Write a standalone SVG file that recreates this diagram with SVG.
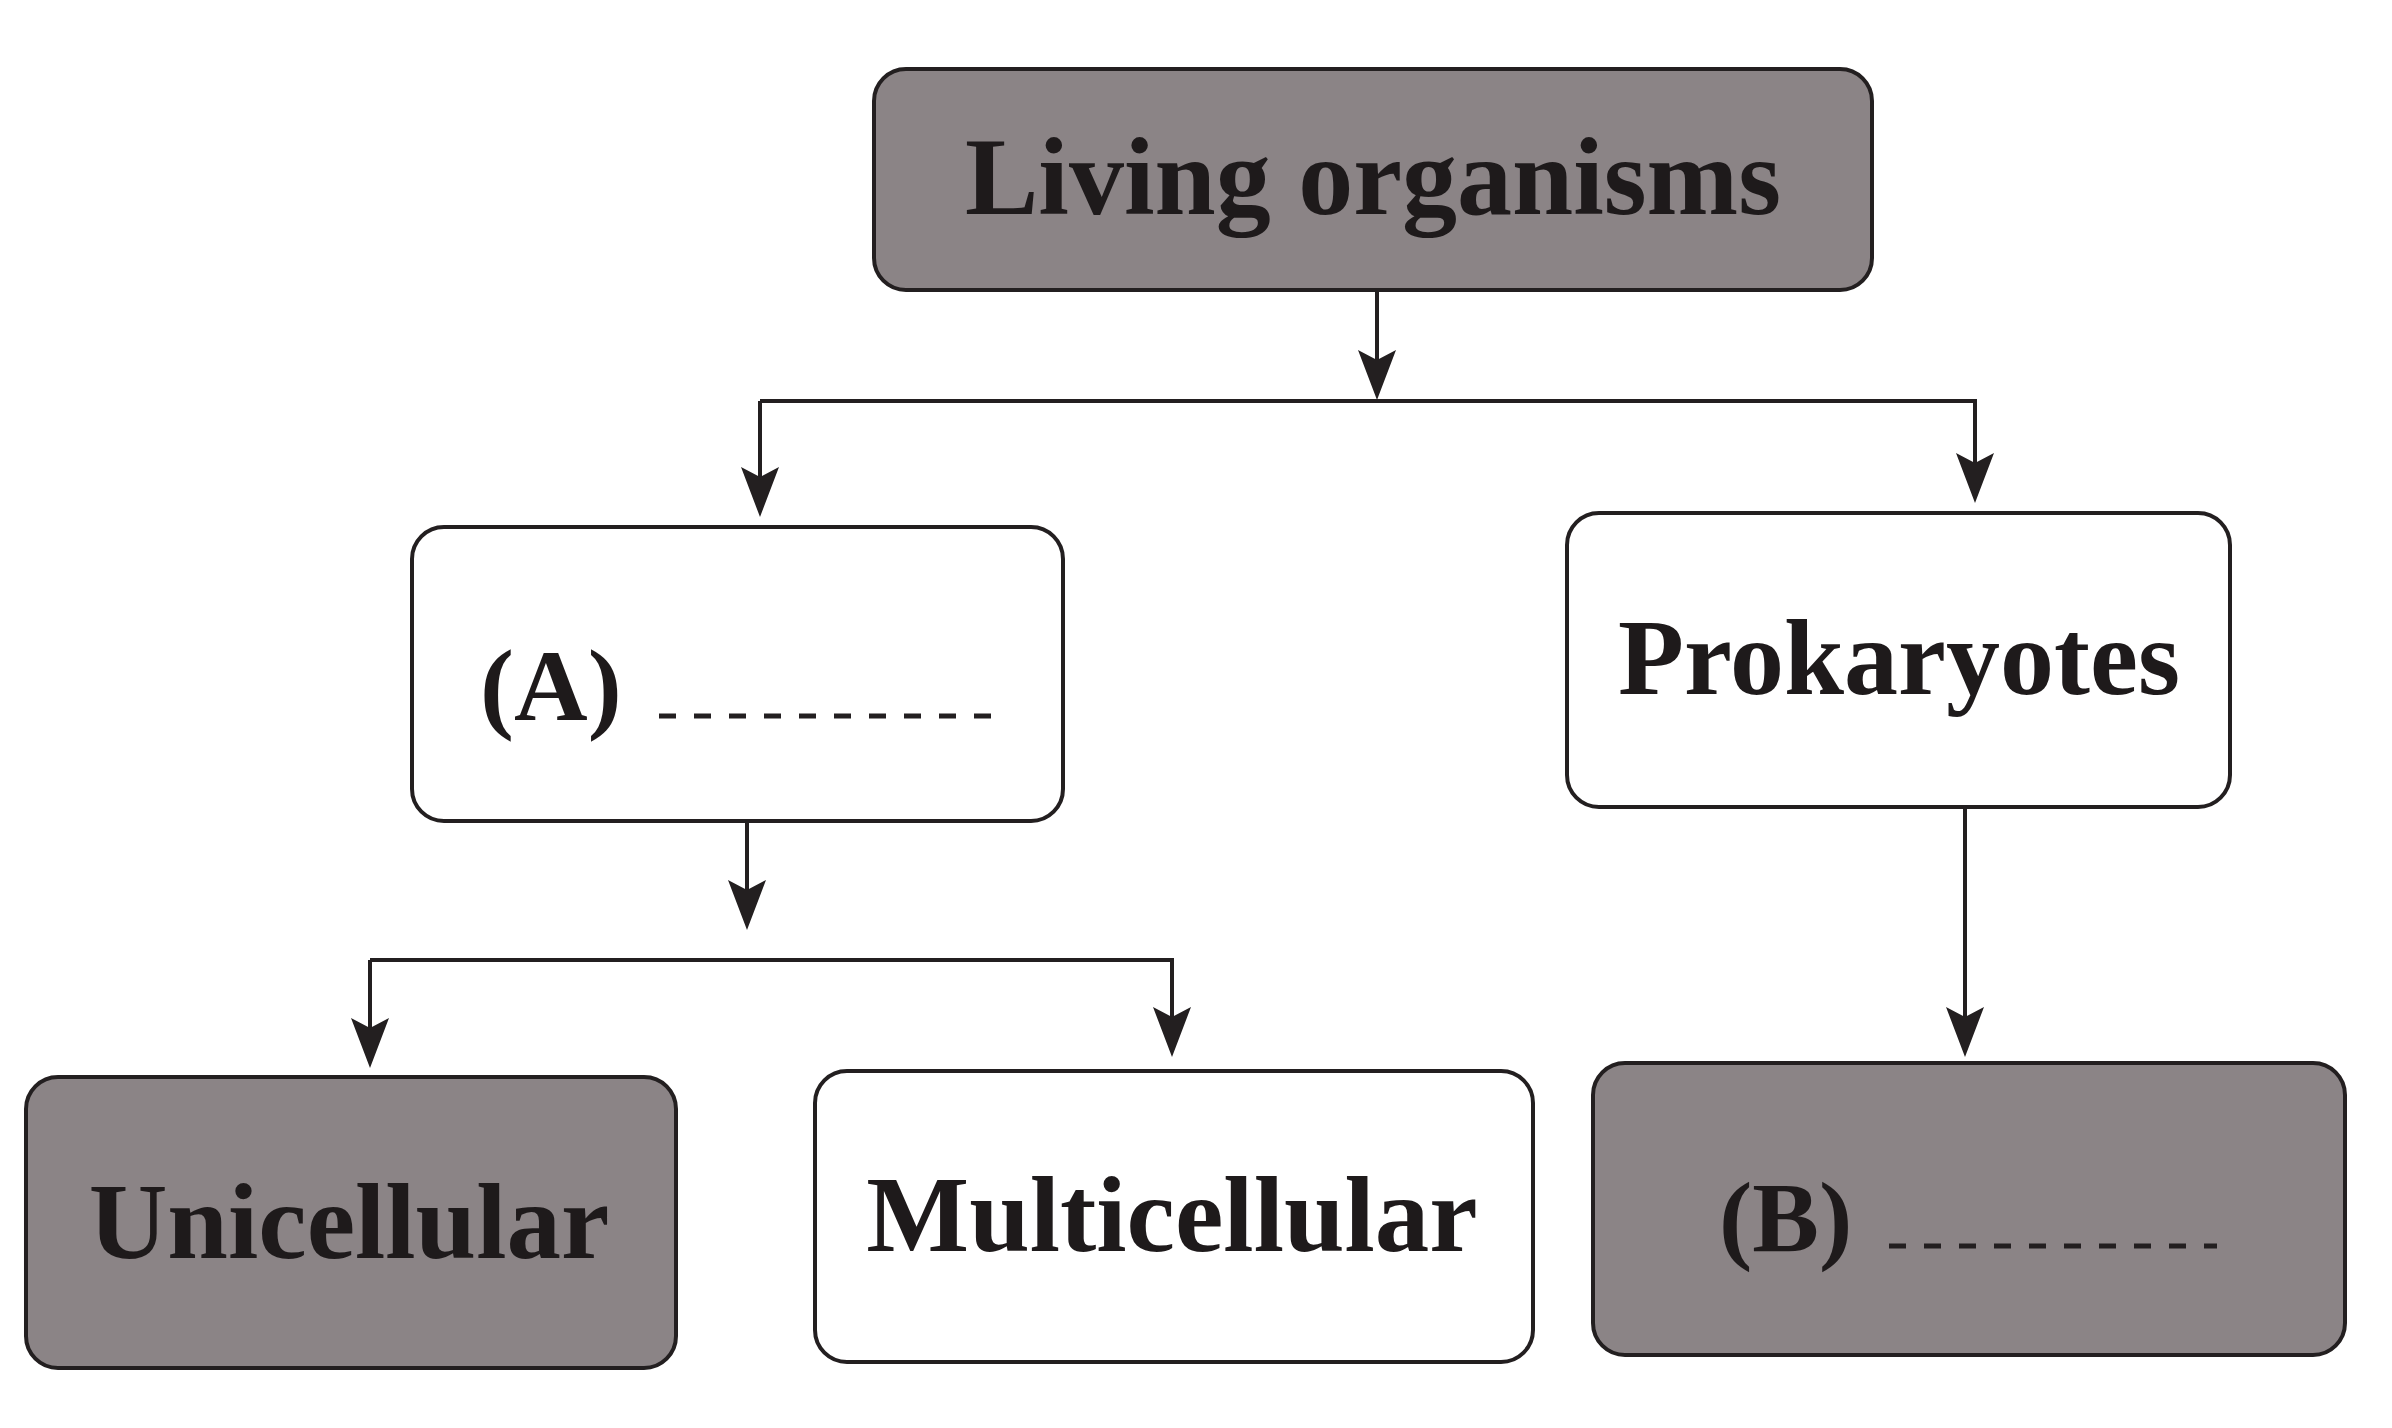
<svg xmlns="http://www.w3.org/2000/svg" width="2392" height="1428" viewBox="0 0 2392 1428">
  <style>
    .box { stroke: #231f20; stroke-width: 4; }
    .dark { fill: #8b8486; }
    .light { fill: #ffffff; }
    .lbl { font-family: "Liberation Serif", "Times New Roman", serif; font-weight: bold; fill: #1e1a1b; }
    .conn { fill: none; stroke: #231f20; stroke-width: 4; }
    .blank { fill: none; stroke: #231f20; stroke-width: 5; stroke-dasharray: 17 18; }
  </style>
  <defs>
    <marker id="arr" markerUnits="userSpaceOnUse" viewBox="-52 -21 54 42" refX="-30" refY="0" markerWidth="54" markerHeight="42" orient="auto">
      <path d="M0,0 L-50,-19 L-40,0 L-50,19 Z" fill="#231f20"/>
    </marker>
  </defs>
  <rect width="2392" height="1428" fill="#ffffff"/>

  <g id="connectors">
    <path class="conn" d="M1377,290 V370" marker-end="url(#arr)"/>
    <path class="conn" d="M760,401 H1975"/>
    <path class="conn" d="M760,401 V487" marker-end="url(#arr)"/>
    <path class="conn" d="M1975,399 V473" marker-end="url(#arr)"/>
    <path class="conn" d="M747,821 V900" marker-end="url(#arr)"/>
    <path class="conn" d="M370,960 H1172"/>
    <path class="conn" d="M370,960 V1038" marker-end="url(#arr)"/>
    <path class="conn" d="M1172,958 V1027" marker-end="url(#arr)"/>
    <path class="conn" d="M1965,807 V1027" marker-end="url(#arr)"/>
  </g>

  <g id="living-organisms">
    <rect class="box dark" x="874" y="69" width="998" height="221" rx="32"/>
    <text class="lbl" x="1373" y="214" font-size="110" text-anchor="middle">Living organisms</text>
  </g>

  <g id="node-a">
    <rect class="box light" x="412" y="527" width="651" height="294" rx="32"/>
    <text class="lbl" x="480" y="720" font-size="102">(A)</text>
    <line class="blank" x1="659" y1="716" x2="992" y2="716"/>
  </g>

  <g id="prokaryotes">
    <rect class="box light" x="1567" y="513" width="663" height="294" rx="32"/>
    <text class="lbl" x="1899" y="694" font-size="108" text-anchor="middle">Prokaryotes</text>
  </g>

  <g id="unicellular">
    <rect class="box dark" x="26" y="1077" width="650" height="291" rx="32"/>
    <text class="lbl" x="349" y="1258" font-size="109" text-anchor="middle">Unicellular</text>
  </g>

  <g id="multicellular">
    <rect class="box light" x="815" y="1071" width="718" height="291" rx="32"/>
    <text class="lbl" x="1172" y="1251" font-size="109" text-anchor="middle">Multicellular</text>
  </g>

  <g id="node-b">
    <rect class="box dark" x="1593" y="1063" width="752" height="292" rx="32"/>
    <text class="lbl" x="1719" y="1251" font-size="100">(B)</text>
    <line class="blank" x1="1889" y1="1246" x2="2217" y2="1246"/>
  </g>
</svg>
